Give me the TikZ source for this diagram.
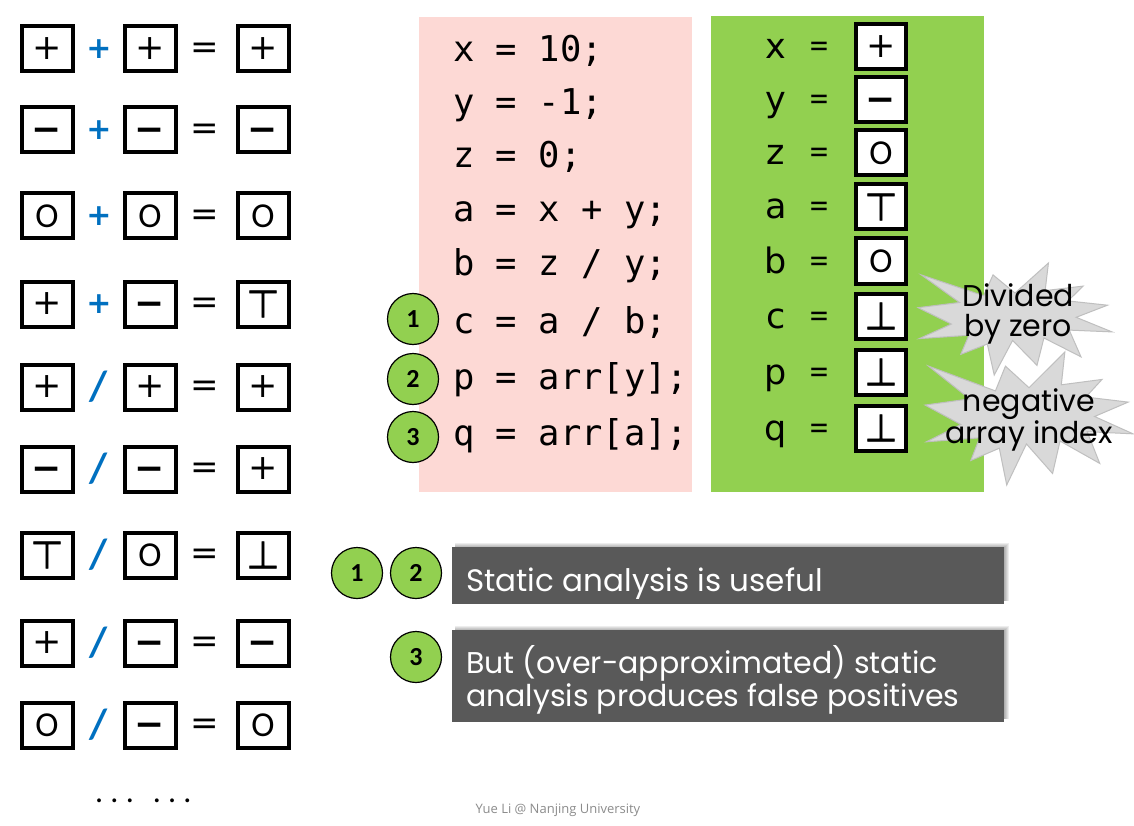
\documentclass[tikz,border=0pt]{standalone}
\usepackage{fontspec}
\setmainfont{Carlito}
\newfontfamily\monof{DejaVu Sans Mono}
\newfontfamily\dvf{DejaVu Sans}
\newfontfamily\dvfb[FakeBold=1.5]{DejaVu Sans}
\newfontfamily\comicf{Poppins}
\newfontfamily\footf{Open Sans}
\definecolor{pinkbg}{HTML}{FDD9D5}
\definecolor{greenbg}{HTML}{92D050}
\definecolor{opblue}{HTML}{0070C0}
\definecolor{darkbox}{HTML}{595959}
\definecolor{burstfill}{HTML}{D9D9D9}
\definecolor{burstline}{HTML}{BFBFBF}
\definecolor{footgray}{HTML}{8C8C8C}

\newcommand\symP{{\dvf\fontsize{35}{35}\selectfont +}}
\newcommand\symM{{\dvf\bfseries\fontsize{36}{36}\selectfont\vphantom{+}−}}
\newcommand\symO{{\fontsize{35}{35}\selectfont O}}
\newcommand\symT{{\dvfb\fontsize{38}{38}\selectfont ⊤}}
\newcommand\symB{{\dvfb\fontsize{38}{38}\selectfont ⊥}}
\newcommand\opP{{\color{opblue}\dvf\bfseries\fontsize{30}{30}\selectfont +}}
\newcommand\opD{{\color{opblue}\bfseries\fontsize{42}{42}\selectfont /}}
\newcommand\eqs{{\dvf\fontsize{34}{34}\selectfont =}}

\newcommand\burstpath{(108,58) -- (145.22,0) -- (141.55,53.25) -- (183.80,44.57) -- (167.02,73.15) -- (210.97,81.37) -- (176.07,104.75) -- (216,132.90) -- (168.37,129.42) -- (181.45,180.95) -- (140.20,144.57) -- (132.47,197.37) -- (105.32,149.35) -- (84.85,216) -- (77.15,156.27) -- (47.62,176.17) -- (56.67,139.37) -- (1.35,145.87) -- (37.22,117.75) -- (0,86.15) -- (46.27,76.17) -- (3.70,22.95) -- (73.12,63.20) -- (83.52,22.95) -- cycle}

\begin{document}
\begin{tikzpicture}[x=1pt,y=-1pt,
  valbox/.style={draw, line width=4pt, fill=white, minimum width=51pt, minimum height=45pt, inner sep=0pt},
  opnode/.style={inner sep=0pt},
  codeline/.style={anchor=base west, inner sep=0pt, font=\monof\fontsize{35.5}{40}\selectfont},
  numc/.style={circle, draw, line width=1.2pt, fill=greenbg, minimum size=51pt, inner sep=0pt, font=\bfseries\fontsize{26}{26}\selectfont},
  varname/.style={anchor=base, inner sep=0pt, font=\dvf\fontsize{35}{35}\selectfont},
  vareq/.style={anchor=base, inner sep=0pt, font=\fontsize{38}{38}\selectfont},
  burst/.style={fill=burstfill, draw=burstline, line width=1pt},
  bursttext/.style={align=center, inner sep=0pt, font=\comicf\fontsize{30}{30}\selectfont},
  panel/.style={fill=darkbox, inner sep=0pt, anchor=north west, minimum width=552pt},
  paneltext/.style={text=white, inner sep=0pt, align=left, anchor=base west},
  shadowrect/.style={fill=black, opacity=0.07}
]
\useasboundingbox (0,0) rectangle (1134,826);
\fill[white] (0,0) rectangle (1134,826);

% left column of rules
\foreach \yy/\a/\o/\b/\c [count=\i] in {49/\symP/\opP/\symP/\symP, 130/\symM/\opP/\symM/\symM, 216/\symO/\opP/\symO/\symO, 304/\symP/\opP/\symM/\symT, 387/\symP/\opD/\symP/\symP, 469/\symM/\opD/\symM/\symP, 555/\symT/\opD/\symO/\symB, 643/\symP/\opD/\symM/\symM, 725/\symO/\opD/\symM/\symO}{
  \node[valbox] (la\i) at (47,\yy) {\a};
  \node[opnode] (lo\i) at (99,\yy) {\o};
  \node[valbox] (lb\i) at (150,\yy) {\b};
  \node[opnode] (le\i) at (205,\yy+2) {\eqs};
  \node[valbox] (lc\i) at (263,\yy) {\c};
}
\node[inner sep=0pt, anchor=base west, font=\fontsize{32}{32}\selectfont] (dots) at (95,802) {.\ .\ .\hspace{19pt}.\ .\ .};

% code panel
\node[fill=pinkbg, minimum width=273pt, minimum height=475pt, inner sep=0pt, anchor=north west] (codepanel) at (419,17) {};
\node[codeline] (c1) at (453,62) {x = 10;};
\node[codeline] (c2) at (453,115) {y = -1;};
\node[codeline] (c3) at (453,168) {z = 0;};
\node[codeline] (c4) at (453,222) {a = x + y;};
\node[codeline] (c5) at (453,276) {b = z / y;};
\node[codeline] (c6) at (453,333) {c = a / b;};
\node[codeline] (c7) at (453,389) {p = arr[y];};
\node[codeline] (c8) at (453,445) {q = arr[a];};
\node[numc] (n1) at (413,319) {1};
\node[numc] (n2) at (413,379) {2};
\node[numc] (n3) at (413,437) {3};

% abstract values panel
\node[fill=greenbg, minimum width=273pt, minimum height=476pt, inner sep=0pt, anchor=north west] (valpanel) at (711,16) {};
\foreach \yy/\v/\s [count=\i] in {47/x/\symP, 100/y/\symM, 153/z/\symO, 207/a/\symT, 261/b/\symO, 316/c/\symB, 372/p/\symB, 428/q/\symB}{
  \node[varname] (v\i) at (776,\yy+12) {\v};
  \node[vareq] (ve\i) at (819,\yy+12) {=};
  \node[valbox, minimum width=50pt, minimum height=45pt] (vb\i) at (881,\yy) {\s};
}

% explosions
\begin{scope}[shift={(918,263)}, xscale=194/216, yscale=112/216]
  \draw[burst] \burstpath;
\end{scope}
\node[bursttext] (dz) at (1018,314) {Divided\\by zero};
\begin{scope}[shift={(925,352)}, xscale=208/216, yscale=133/216]
  \draw[burst] \burstpath;
\end{scope}
\node[bursttext] (nai) at (1029,420) {negative\\array index};

% conclusion panels
\foreach \k in {1,...,5}{
  \fill[shadowrect] (455,548-\k) rectangle (1004+\k,601);
  \fill[shadowrect] (455,631-\k) rectangle (1004+\k,719);
}
\node[panel, minimum height=57pt] (s1) at (452,547) {};
\node[panel, minimum height=92pt] (s2) at (452,630) {};
\node[paneltext, font=\comicf\fontsize{31}{33}\selectfont] (t1) at (466,591) {Static analysis is useful};
\node[paneltext, font=\comicf\fontsize{30}{33}\selectfont] (t2) at (466,706) {But (over-approximated) static\\analysis produces false positives};
\node[numc] (m1) at (357,573) {1};
\node[numc] (m2) at (416,573) {2};
\node[numc] (m3) at (416,657) {3};

% footer
\node[inner sep=0pt, text=footgray, font=\footf\fontsize{13}{13}\selectfont] (foot) at (558,810) {Yue Li @ Nanjing University};
\end{tikzpicture}
\end{document}
